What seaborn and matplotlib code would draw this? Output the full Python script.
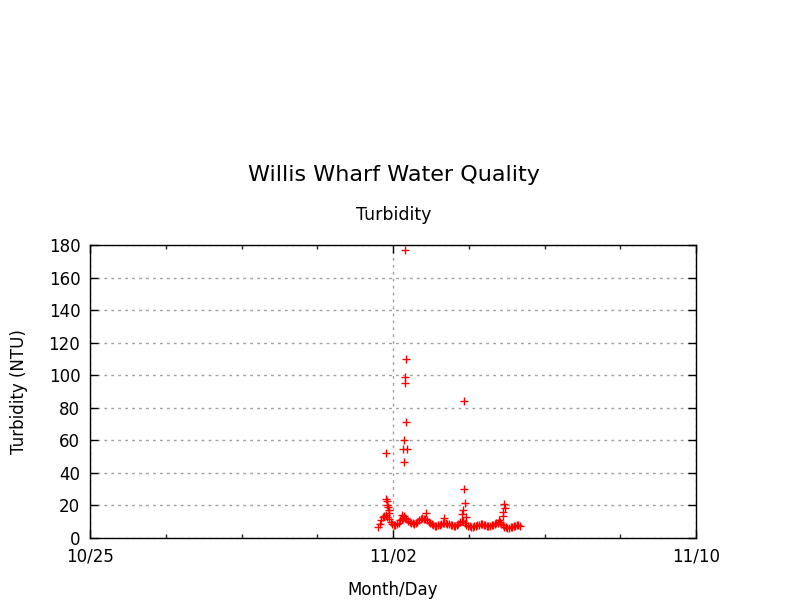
import numpy as np
import pandas as pd
import matplotlib
matplotlib.use("Agg")
import matplotlib.pyplot as plt
import matplotlib.dates as mdates
import matplotlib.ticker as mticker
import seaborn as sns

# ---- data ----
series_start = "2014-11-01 14:30"
turbidity_hourly = [
    6.9, 8.5, 11, 13, 13.8, 14, 13, 11.5, 9.8, 8.6,
    8.2, 8, 8.6, 9.4, 10.8, 11.8, 12.2, 12, 11.5, 10.4,
    9.8, 9.4, 9.2, 8.8, 9, 10, 10.8, 11.6, 12, 11.8,
    11.5, 10.8, 10, 9.2, 8.6, 8, 7.4, 7.2, 7.8, 8.2,
    8.8, 9.2, 9.4, 9.2, 8.8, 8.6, 8.2, 8, 7.6, 7.4,
    7.8, 8.6, 9.6, 10.6, 10.2, 9, 8.2, 7.6, 7.2, 6.9,
    7, 7.2, 7.4, 7.8, 8, 8.4, 8.6, 8.2, 8, 7.6,
    7.4, 7.6, 8, 8.2, 8.6, 9, 9.4, 9.6, 8.6, 7.8,
    7, 6.8, 6.4, 6.3, 6.5, 6.9, 7.2, 7.4, 7.8, 8,
    7.4,
]
spike_times = [
    "2014-11-01 19:35", "2014-11-01 19:50", "2014-11-01 20:10", "2014-11-01 20:30",
    "2014-11-01 20:50", "2014-11-01 21:10", "2014-11-01 21:30",
    "2014-11-02 06:00", "2014-11-02 06:30", "2014-11-02 07:00", "2014-11-02 07:10",
    "2014-11-02 07:10", "2014-11-02 07:50", "2014-11-02 07:50", "2014-11-02 07:50",
    "2014-11-02 08:25", "2014-11-02 08:25", "2014-11-02 09:05",
    "2014-11-02 20:55", "2014-11-03 08:20",
    "2014-11-03 19:55", "2014-11-03 20:40", "2014-11-03 21:10", "2014-11-03 21:10",
    "2014-11-03 21:50", "2014-11-03 22:25",
    "2014-11-04 19:10", "2014-11-04 21:40", "2014-11-04 22:00", "2014-11-04 22:20",
    "2014-11-04 22:40",
]
spike_values = [
    52, 24, 22.5, 20.5, 19, 17, 15.5,
    14, 54.5, 13.5, 60, 46.5, 99, 95, 177, 110, 71, 54.5,
    15.5, 12.1,
    14.7, 17.2, 84, 30.1, 21.3, 13.1,
    11, 13.5, 16, 20.9, 18.2,
]
x_major_labels = ["2014-10-25", "2014-11-02", "2014-11-10"]
y_ticks = [0, 20, 40, 60, 80, 100, 120, 140, 160, 180]

# ---- build table ----
base = pd.DataFrame({
    "time": pd.date_range(series_start, periods=len(turbidity_hourly), freq="h"),
    "value": turbidity_hourly,
})
spikes = pd.DataFrame({"time": pd.to_datetime(spike_times), "value": spike_values})
df = pd.concat([base, spikes], ignore_index=True)

sns.set_style("ticks")
plt.rcParams["font.family"] = ["DejaVu Sans"]
plt.rcParams["text.color"] = "black"
plt.rcParams["axes.labelcolor"] = "black"

fig = plt.figure(figsize=(8, 6), dpi=100)
ax = fig.add_axes([90 / 800, 1 - 538 / 600, (696 - 90) / 800, (538 - 245) / 600])

sns.scatterplot(data=df, x="time", y="value", ax=ax, color="red", marker="+",
                s=38, linewidth=1.0, legend=False, zorder=3)

major = pd.to_datetime(x_major_labels)
ax.set_xlim(major[0], major[-1])
ax.set_ylim(0, 180)
ax.xaxis.set_major_locator(mticker.FixedLocator(mdates.date2num(major)))
ax.xaxis.set_major_formatter(mdates.DateFormatter("%m/%d"))
minor = pd.date_range(major[0], major[-1], freq="2D")
ax.xaxis.set_minor_locator(mticker.FixedLocator(mdates.date2num(minor)))
ax.set_yticks(y_ticks)

ax.grid(True, which="major", color="#a0a0a0", linestyle=(0, (2, 3)), linewidth=1)
ax.tick_params(axis="both", which="major", direction="in", length=6, width=1,
               top=True, right=True, labelsize=12, pad=7, colors="black")
ax.tick_params(axis="x", which="minor", direction="in", length=3, width=1,
               top=True, bottom=True)
for sp in ax.spines.values():
    sp.set_visible(True)
    sp.set_color("black")
    sp.set_linewidth(1)

ax.set_xlabel("Month/Day", fontsize=12, labelpad=11)
ax.set_ylabel("Turbidity (NTU)", fontsize=12, labelpad=15)

fig.text(0.4925, 1 - 175 / 600, "Willis Wharf Water Quality", ha="center", va="center",
         fontsize=16)
fig.text(0.4925, 1 - 215 / 600, "Turbidity", ha="center", va="center", fontsize=12.5)

fig.savefig("out.png", dpi=100)
